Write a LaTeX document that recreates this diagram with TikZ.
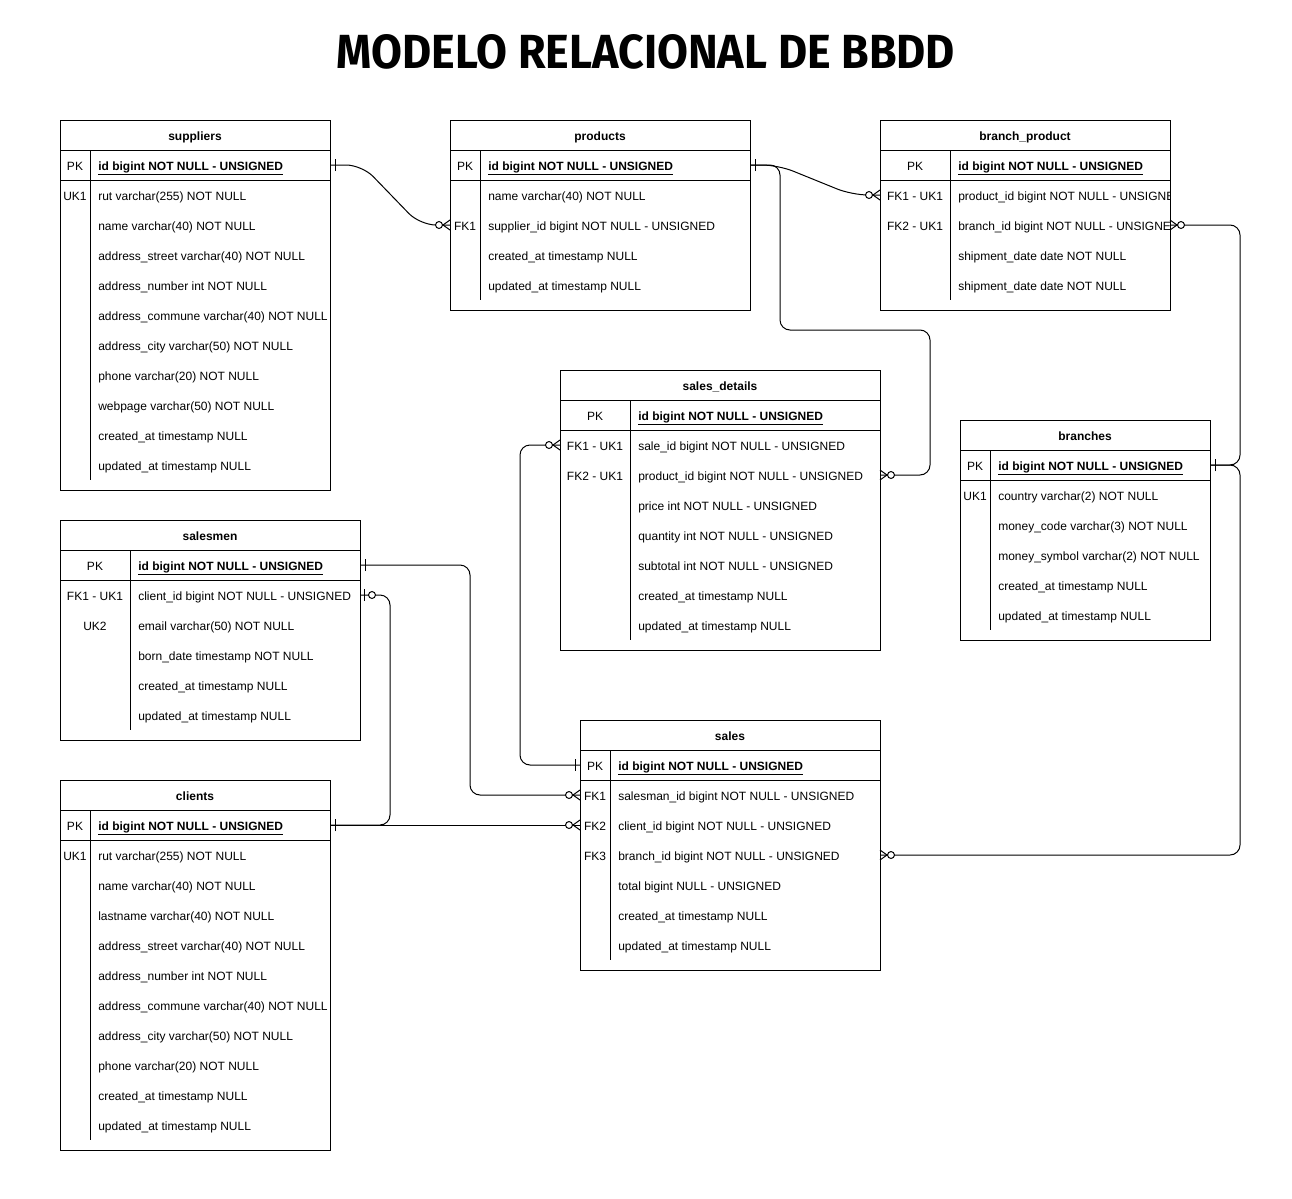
\documentclass[tikz,border=0pt]{standalone}
\usepackage{graphicx}
\usepackage{fontspec}
\setmainfont{Liberation Sans}
\newfontfamily\titlefont{Fira Sans}
\usetikzlibrary{calc,arrows.meta}

% ER markers
\pgfdeclarearrow{
  name = ERzm,
  setup code = {
    \pgfarrowssettipend{0pt}
    \pgfarrowssetlineend{0pt}
    \pgfarrowssetbackend{-11pt}
    \pgfarrowssetvisualbackend{-11pt}
  },
  drawing code = {
    \pgfsetdash{}{0pt}
    \pgfpathmoveto{\pgfqpoint{0pt}{3.75pt}}
    \pgfpathlineto{\pgfqpoint{-5.25pt}{0pt}}
    \pgfpathlineto{\pgfqpoint{0pt}{-3.75pt}}
    \pgfusepathqstroke
    \pgfpathcircle{\pgfqpoint{-8.25pt}{0pt}}{2.6pt}
    \pgfsetfillcolor{white}
    \pgfusepathqfillstroke
  },
}
\pgfdeclarearrow{
  name = ERone,
  setup code = {
    \pgfarrowssettipend{0pt}
    \pgfarrowssetlineend{0pt}
    \pgfarrowssetbackend{-4pt}
    \pgfarrowssetvisualbackend{-4pt}
  },
  drawing code = {
    \pgfsetdash{}{0pt}
    \pgfpathmoveto{\pgfqpoint{-3.75pt}{4.5pt}}
    \pgfpathlineto{\pgfqpoint{-3.75pt}{-4.5pt}}
    \pgfusepathqstroke
  },
}
\pgfdeclarearrow{
  name = ERzo,
  setup code = {
    \pgfarrowssettipend{0pt}
    \pgfarrowssetlineend{0pt}
    \pgfarrowssetbackend{-12pt}
    \pgfarrowssetvisualbackend{-12pt}
  },
  drawing code = {
    \pgfsetdash{}{0pt}
    \pgfpathmoveto{\pgfqpoint{-3pt}{4.5pt}}
    \pgfpathlineto{\pgfqpoint{-3pt}{-4.5pt}}
    \pgfusepathqstroke
    \pgfpathcircle{\pgfqpoint{-9pt}{0pt}}{2.6pt}
    \pgfsetfillcolor{white}
    \pgfusepathqfillstroke
  },
}

\tikzset{
  tbl/.style={draw=black, line width=0.75pt},
  ertext/.style={inner sep=0pt, text height=8pt, text depth=0pt, font=\fontsize{9pt}{11pt}\selectfont},
  ttl/.style={ertext, font=\fontsize{9pt}{11pt}\selectfont\bfseries},
  keyt/.style={ertext},
  fld/.style={ertext, anchor=west},
  pkfld/.style={fld, font=\fontsize{9pt}{11pt}\selectfont\bfseries},
  rel/.style={draw=black, line width=0.75pt, rounded corners=7.5pt},
  curvedrel/.style={rel, rounded corners=12pt},
}

\newcommand\ERframe[3]{%
  \pgfmathsetmacro\ERh{70+30*#3}
  \draw[tbl] (0,0) rectangle (\tw,\ERh);
  \draw[tbl] (0,30) -- (\tw,30) (0,60) -- (\tw,60) (\kw,30) -- (\kw,\ERh-10);
  \node[ttl] (#1) at (\tw/2,15) {#2};
}
\newcommand\ERpk[2]{%
  \coordinate (#1-l0) at (0,45);
  \coordinate (#1-r0) at (\tw,45);
  \node[keyt] (#1-k0) at (\kw/2,45) {PK};
  \node[pkfld] (#1-f0) at (\kw+8,45) {\underline{#2}};
}
\newcommand\ERrow[4]{%
  \coordinate (#1-l#2) at (0,45+30*#2);
  \coordinate (#1-r#2) at (\tw,45+30*#2);
  \node[keyt] (#1-k#2) at (\kw/2,45+30*#2) {#3};
  \node[fld] (#1-f#2) at (\kw+8,45+30*#2) {#4};
}

\begin{document}
\begin{tikzpicture}[x=0.75pt, y=-0.75pt]
\fill[white] (0,0) rectangle (1292,1199);
\useasboundingbox (0,0) rectangle (1292,1199);

\node[inner sep=0pt] (title) at (646,52) {\resizebox{463.5pt}{25.5pt}{\titlefont\bfseries MODELO RELACIONAL DE BBDD}};

% suppliers
\begin{scope}[shift={(60,120)}]
\def\tw{270}\def\kw{30}
\ERframe{sup}{suppliers}{10}
\ERpk{sup}{id bigint NOT NULL - UNSIGNED}
\ERrow{sup}{1}{UK1}{rut varchar(255) NOT NULL}
\ERrow{sup}{2}{}{name varchar(40) NOT NULL}
\ERrow{sup}{3}{}{address\_street varchar(40) NOT NULL}
\ERrow{sup}{4}{}{address\_number int NOT NULL}
\ERrow{sup}{5}{}{address\_commune varchar(40) NOT NULL}
\ERrow{sup}{6}{}{address\_city varchar(50) NOT NULL}
\ERrow{sup}{7}{}{phone varchar(20) NOT NULL}
\ERrow{sup}{8}{}{webpage varchar(50) NOT NULL}
\ERrow{sup}{9}{}{created\_at timestamp NULL}
\ERrow{sup}{10}{}{updated\_at timestamp NULL}
\end{scope}

% products
\begin{scope}[shift={(450,120)}]
\def\tw{300}\def\kw{30}
\ERframe{prod}{products}{4}
\ERpk{prod}{id bigint NOT NULL - UNSIGNED}
\ERrow{prod}{1}{}{name varchar(40) NOT NULL}
\ERrow{prod}{2}{FK1}{supplier\_id bigint NOT NULL - UNSIGNED}
\ERrow{prod}{3}{}{created\_at timestamp NULL}
\ERrow{prod}{4}{}{updated\_at timestamp NULL}
\end{scope}

% branch_product
\begin{scope}[shift={(880,120)}]
\def\tw{290}\def\kw{70}
\ERframe{bp}{branch\_product}{4}
\ERpk{bp}{id bigint NOT NULL - UNSIGNED}
\begin{scope}
\clip (0,0) rectangle (\tw,190);
\ERrow{bp}{1}{FK1 - UK1}{product\_id bigint NOT NULL - UNSIGNED}
\ERrow{bp}{2}{FK2 - UK1}{branch\_id bigint NOT NULL - UNSIGNED}
\end{scope}
\ERrow{bp}{3}{}{shipment\_date date NOT NULL}
\ERrow{bp}{4}{}{shipment\_date date NOT NULL}
\end{scope}

% sales_details
\begin{scope}[shift={(560,370)}]
\def\tw{320}\def\kw{70}
\ERframe{sd}{sales\_details}{7}
\ERpk{sd}{id bigint NOT NULL - UNSIGNED}
\ERrow{sd}{1}{FK1 - UK1}{sale\_id bigint NOT NULL - UNSIGNED}
\ERrow{sd}{2}{FK2 - UK1}{product\_id bigint NOT NULL - UNSIGNED}
\ERrow{sd}{3}{}{price int NOT NULL - UNSIGNED}
\ERrow{sd}{4}{}{quantity int NOT NULL - UNSIGNED}
\ERrow{sd}{5}{}{subtotal int NOT NULL - UNSIGNED}
\ERrow{sd}{6}{}{created\_at timestamp NULL}
\ERrow{sd}{7}{}{updated\_at timestamp NULL}
\end{scope}

% branches
\begin{scope}[shift={(960,420)}]
\def\tw{250}\def\kw{30}
\ERframe{br}{branches}{5}
\ERpk{br}{id bigint NOT NULL - UNSIGNED}
\ERrow{br}{1}{UK1}{country varchar(2) NOT NULL}
\ERrow{br}{2}{}{money\_code varchar(3) NOT NULL}
\ERrow{br}{3}{}{money\_symbol varchar(2) NOT NULL}
\ERrow{br}{4}{}{created\_at timestamp NULL}
\ERrow{br}{5}{}{updated\_at timestamp NULL}
\end{scope}

% salesmen
\begin{scope}[shift={(60,520)}]
\def\tw{300}\def\kw{70}
\ERframe{sm}{salesmen}{5}
\ERpk{sm}{id bigint NOT NULL - UNSIGNED}
\ERrow{sm}{1}{FK1 - UK1}{client\_id bigint NOT NULL - UNSIGNED}
\ERrow{sm}{2}{UK2}{email varchar(50) NOT NULL}
\ERrow{sm}{3}{}{born\_date timestamp NOT NULL}
\ERrow{sm}{4}{}{created\_at timestamp NULL}
\ERrow{sm}{5}{}{updated\_at timestamp NULL}
\end{scope}

% clients
\begin{scope}[shift={(60,780)}]
\def\tw{270}\def\kw{30}
\ERframe{cl}{clients}{10}
\ERpk{cl}{id bigint NOT NULL - UNSIGNED}
\ERrow{cl}{1}{UK1}{rut varchar(255) NOT NULL}
\ERrow{cl}{2}{}{name varchar(40) NOT NULL}
\ERrow{cl}{3}{}{lastname varchar(40) NOT NULL}
\ERrow{cl}{4}{}{address\_street varchar(40) NOT NULL}
\ERrow{cl}{5}{}{address\_number int NOT NULL}
\ERrow{cl}{6}{}{address\_commune varchar(40) NOT NULL}
\ERrow{cl}{7}{}{address\_city varchar(50) NOT NULL}
\ERrow{cl}{8}{}{phone varchar(20) NOT NULL}
\ERrow{cl}{9}{}{created\_at timestamp NULL}
\ERrow{cl}{10}{}{updated\_at timestamp NULL}
\end{scope}

% sales
\begin{scope}[shift={(580,720)}]
\def\tw{300}\def\kw{30}
\ERframe{sa}{sales}{6}
\ERpk{sa}{id bigint NOT NULL - UNSIGNED}
\ERrow{sa}{1}{FK1}{salesman\_id bigint NOT NULL - UNSIGNED}
\ERrow{sa}{2}{FK2}{client\_id bigint NOT NULL - UNSIGNED}
\ERrow{sa}{3}{FK3}{branch\_id bigint NOT NULL - UNSIGNED}
\ERrow{sa}{4}{}{total bigint NULL - UNSIGNED}
\ERrow{sa}{5}{}{created\_at timestamp NULL}
\ERrow{sa}{6}{}{updated\_at timestamp NULL}
\end{scope}

% connectors
\draw[curvedrel, {ERone}-{ERzm}] (sup-r0) -- ++(32,0) -- ($(prod-l2)+(-30,0)$) -- (prod-l2);
\draw[curvedrel, {ERone}-{ERzm}] (prod-r0) -- ++(28,0) -- ($(bp-l1)+(-28,0)$) -- (bp-l1);
\draw[rel, -{ERzm}] (prod-r0) -- ++(30,0) -- ++(0,165) -- ++(150,0) |- (sd-r2);
\draw[rel, {ERone}-{ERzm}] (br-r0) -- ++(30,0) |- (bp-r2);
\draw[rel, {ERone}-{ERzm}] (sa-l0) -- ++(-60,0) |- (sd-l1);
\draw[rel, {ERone}-{ERzm}] (sm-r0) -- ++(110,0) |- (sa-l1);
\draw[rel, {ERzo}-{ERone}] (sm-r1) -- ++(30,0) |- (cl-r0);
\draw[rel, {ERone}-{ERzm}] (cl-r0) -- (sa-l2);
\draw[rel, {ERzm}-{ERone}] (sa-r3) -- ++(360,0) |- (br-r0);
\end{tikzpicture}
\end{document}
